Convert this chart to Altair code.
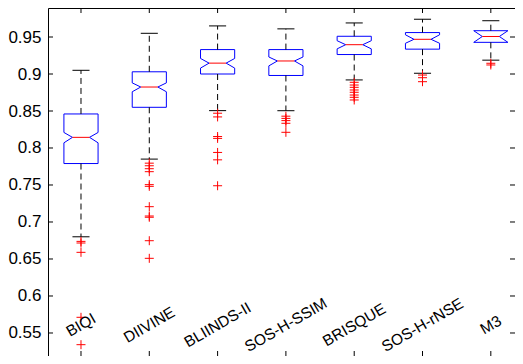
import altair as alt
import pandas as pd

categories = ["BIQI", "DIIVINE", "BLIINDS-II", "SOS-H-SSIM", "BRISQUE", "SOS-H-rNSE", "M3"]
upper_whisker = [0.905, 0.955, 0.965, 0.961, 0.969, 0.974, 0.972]
q3 = [0.846, 0.903, 0.933, 0.933, 0.951, 0.956, 0.9585]
notch_hi = [0.821, 0.888, 0.921, 0.923, 0.945, 0.953, 0.9585]
median = [0.8144, 0.8824, 0.9147, 0.9176, 0.9396, 0.9469, 0.9507]
notch_lo = [0.807, 0.876, 0.908, 0.911, 0.934, 0.9415, 0.9428]
q1 = [0.779, 0.855, 0.900, 0.898, 0.9263, 0.9336, 0.9428]
lower_whisker = [0.680, 0.785, 0.8505, 0.8504, 0.892, 0.901, 0.9187]
outliers = [
    [0.6738, 0.6716, 0.659, 0.5712, 0.5342],
    [0.7795, 0.776, 0.772, 0.768, 0.7505, 0.7482, 0.7207, 0.7081, 0.7064, 0.6747, 0.6509],
    [0.847, 0.842, 0.8155, 0.813, 0.794, 0.784, 0.749],
    [0.843, 0.840, 0.837, 0.8334, 0.8212],
    [0.8888, 0.8851, 0.882, 0.8784, 0.8753, 0.8716, 0.8685, 0.8649],
    [0.8986, 0.895, 0.8896],
    [0.9145, 0.9122],
]
y_ticks = [0.55, 0.6, 0.65, 0.7, 0.75, 0.8, 0.85, 0.9, 0.95]

HW, NW, CAP = 0.25, 0.125, 0.125
W, H = 467, 348

box_rows, whisk_rows, cap_rows, med_rows, out_rows, cat_rows = [], [], [], [], [], []
for i, c in enumerate(categories):
    p = i + 1
    pts = [(-HW, q3[i]), (HW, q3[i]), (HW, notch_hi[i]), (NW, median[i]), (HW, notch_lo[i]),
           (HW, q1[i]), (-HW, q1[i]), (-HW, notch_lo[i]), (-NW, median[i]), (-HW, notch_hi[i]),
           (-HW, q3[i])]
    for k, (dx, v) in enumerate(pts):
        box_rows.append(dict(cat=c, order=k, x=p + dx, y=v))
    whisk_rows.append(dict(x=p, y1=q3[i], y2=upper_whisker[i]))
    whisk_rows.append(dict(x=p, y1=q1[i], y2=lower_whisker[i]))
    cap_rows.append(dict(x1=p - CAP, x2=p + CAP, y=upper_whisker[i]))
    cap_rows.append(dict(x1=p - CAP, x2=p + CAP, y=lower_whisker[i]))
    med_rows.append(dict(x1=p - NW, x2=p + NW, y=median[i]))
    for v in outliers[i]:
        out_rows.append(dict(x=p, y=v))
    cat_rows.append(dict(x=p, cat=c))

xs = alt.Scale(domain=[0.517, 7.354], nice=False, zero=False)
ys = alt.Scale(domain=[0.5189, 0.9892], nice=False, zero=False)
yaxis = alt.Axis(values=y_ticks, format=".2~f", ticks=False, domain=False, grid=False,
                 labelFontSize=17, labelFont="Liberation Sans", labelColor="black",
                 labelPadding=7, title=None)

box = alt.Chart(pd.DataFrame(box_rows)).mark_line(color="#0000FF", strokeWidth=1).encode(
    x=alt.X("x:Q", scale=xs, axis=None),
    y=alt.Y("y:Q", scale=ys, axis=yaxis),
    detail="cat:N",
    order="order:Q",
)
whisk = alt.Chart(pd.DataFrame(whisk_rows)).mark_rule(color="black", strokeWidth=1, strokeDash=[6, 4]).encode(
    x=alt.X("x:Q", scale=xs), y=alt.Y("y1:Q", scale=ys), y2="y2:Q")
caps = alt.Chart(pd.DataFrame(cap_rows)).mark_rule(color="black", strokeWidth=1).encode(
    x=alt.X("x1:Q", scale=xs), x2="x2:Q", y=alt.Y("y:Q", scale=ys))
meds = alt.Chart(pd.DataFrame(med_rows)).mark_rule(color="#FF0000", strokeWidth=1).encode(
    x=alt.X("x1:Q", scale=xs), x2="x2:Q", y=alt.Y("y:Q", scale=ys))
outs = alt.Chart(pd.DataFrame(out_rows)).mark_point(
    shape="M-1,0L1,0M0,-1L0,1", size=81, filled=False, stroke="#FF0000", strokeWidth=1, opacity=1
).encode(x=alt.X("x:Q", scale=xs), y=alt.Y("y:Q", scale=ys))
labels = alt.Chart(pd.DataFrame(cat_rows)).mark_text(
    angle=330, fontSize=15.5, font="Liberation Sans", align="center", baseline="middle", color="black"
).encode(x=alt.X("x:Q", scale=xs), y=alt.value(317), text="cat:N")
top_ticks = alt.Chart(pd.DataFrame(cat_rows)).mark_rule(color="black", strokeWidth=1).encode(
    x=alt.X("x:Q", scale=xs), y=alt.value(0), y2=alt.value(5))
bot_ticks = alt.Chart(pd.DataFrame(cat_rows)).mark_rule(color="black", strokeWidth=1).encode(
    x=alt.X("x:Q", scale=xs), y=alt.value(H - 5), y2=alt.value(H))
tick_df = pd.DataFrame(dict(v=y_ticks))
left_ticks = alt.Chart(tick_df).mark_rule(color="black", strokeWidth=1).encode(
    y=alt.Y("v:Q", scale=ys), x=alt.value(0), x2=alt.value(5))
right_ticks = alt.Chart(tick_df).mark_rule(color="black", strokeWidth=1).encode(
    y=alt.Y("v:Q", scale=ys), x=alt.value(W - 5), x2=alt.value(W))

chart = alt.layer(
    box, whisk, caps, meds, outs, labels, top_ticks, bot_ticks, left_ticks, right_ticks
).properties(
    width=W, height=H,
    autosize=alt.AutoSizeParams(type="none"),
    padding={"left": 40, "top": 0, "right": 0, "bottom": 0},
    background="white",
).configure_view(stroke="black", strokeWidth=1)

chart.save("out.html", embed_options={"renderer": "svg", "actions": False})
